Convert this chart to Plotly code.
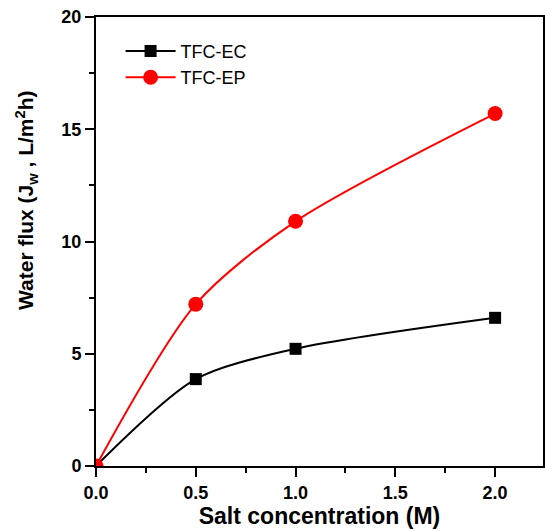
import plotly.graph_objects as go

salt = [0.0, 0.5, 1.0, 2.0]
tfc_ec = [0.0, 3.87, 5.22, 6.6]
tfc_ep = [0.0, 7.21, 10.9, 15.7]

fig = go.Figure()
fig.add_trace(go.Scatter(x=salt, y=tfc_ec, name="TFC-EC", mode="lines+markers",
                         line=dict(color="black", width=2, shape="spline", smoothing=0.8),
                         marker=dict(symbol="square", size=12, color="black")))
fig.add_trace(go.Scatter(x=salt, y=tfc_ep, name="TFC-EP", mode="lines+markers",
                         line=dict(color="#ff0000", width=2, shape="spline", smoothing=0.8),
                         marker=dict(symbol="circle", size=15, color="#ff0000")))

font = "Liberation Sans, Arial, sans-serif"
fig.update_layout(
    width=545, height=531,
    margin=dict(l=96, r=2, t=17, b=65),
    paper_bgcolor="white", plot_bgcolor="white",
    font=dict(family=font, color="black"),
    legend=dict(x=0.055, y=0.965, xanchor="left", yanchor="top",
                font=dict(size=18, family=font), bgcolor="rgba(0,0,0,0)",
                itemwidth=50, tracegroupgap=2),
    xaxis=dict(range=[0, 2.24], tickvals=[0, 0.5, 1.0, 1.5, 2.0],
               ticktext=["<b>0.0</b>", "<b>0.5</b>", "<b>1.0</b>", "<b>1.5</b>", "<b>2.0</b>"],
               ticks="outside", ticklen=9, tickwidth=2, tickcolor="black",
               minor=dict(ticks="outside", ticklen=5, tickwidth=2, tickcolor="black", dtick=0.25),
               showline=True, linecolor="black", linewidth=2, mirror=True,
               showgrid=False, zeroline=False, automargin=False,
               tickfont=dict(size=18),
               title=dict(text="<b>Salt concentration (M)</b>", font=dict(size=23), standoff=6)),
    yaxis=dict(range=[0, 20], tickvals=[0, 5, 10, 15, 20],
               ticktext=["<b>0</b>", "<b>5</b>", "<b>10</b>", "<b>15</b>", "<b>20</b>"],
               ticks="outside", ticklen=9, tickwidth=2, tickcolor="black",
               minor=dict(ticks="outside", ticklen=5, tickwidth=2, tickcolor="black", dtick=2.5),
               showline=True, linecolor="black", linewidth=2, mirror=True,
               showgrid=False, zeroline=False, automargin=False,
               tickfont=dict(size=18)),
    annotations=[dict(text="<b>Water flux (J<sub>w</sub> , L/m<sup>2</sup>h)</b>",
                      xref="paper", yref="paper", x=-0.157, y=0.592,
                      xanchor="center", yanchor="middle", textangle=-90,
                      showarrow=False, font=dict(size=21, family=font))],
)
fig.write_html("out.html", config={"displayModeBar": False},
               post_script="document.body.style.margin='0';document.body.style.overflow='hidden';")
